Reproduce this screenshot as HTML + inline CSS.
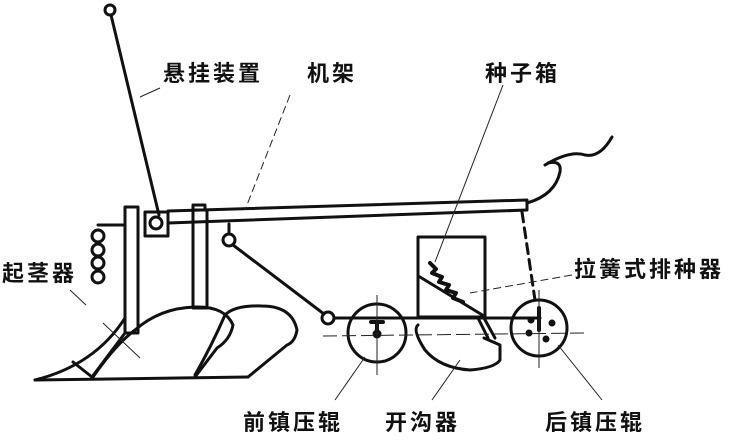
<!DOCTYPE html>
<html><head><meta charset="utf-8"><style>
html,body{margin:0;padding:0;background:#fff;}
svg{display:block;}
text{font-family:"Liberation Sans","Noto Sans CJK SC",sans-serif;font-size:22px;font-weight:bold;fill:#111;letter-spacing:3px;}
</style></head><body>
<svg width="729" height="441" viewBox="0 0 729 441" xmlns="http://www.w3.org/2000/svg">
<g fill="none" stroke="#111" stroke-width="3" stroke-linejoin="round" stroke-linecap="round">
<circle cx="110" cy="10" r="5"/>
<line x1="111" y1="15" x2="159" y2="215"/>
<path d="M168 211 L527 200 L527 210 L168 223"/>
<path d="M527 203 Q555 195 560 172 Q562 160 548 163"/>
<path d="M545 165 Q570 150 585 155 Q600 158 612 137"/>
<rect x="145" y="212" width="23" height="24"/>
<circle cx="156" cy="223" r="6"/>
<rect x="125" y="207" width="13" height="126"/>
<path d="M98 225 L125 225"/>
<circle cx="98" cy="236" r="6"/><circle cx="98" cy="250" r="6"/><circle cx="98" cy="263" r="6"/><circle cx="98" cy="277" r="6"/>
<rect x="193" y="210" width="14" height="98"/>
<rect x="193" y="205" width="12" height="5"/>
<line x1="229" y1="224" x2="229" y2="234"/>
<circle cx="229" cy="240" r="6"/>
<line x1="233" y1="245" x2="324" y2="314"/>
<circle cx="328" cy="318" r="6"/>
<!-- plows -->
<path d="M35 380 L248 377"/>
<path d="M35 380 Q95 365 125 318"/>
<path d="M92 377 L125 333"/>
<path d="M73 362 L92 377"/>
<path d="M93 377 Q115 345 135 330 Q160 308 195 307 Q225 306 233 325 Q230 340 217 348 L195 377"/>
<path d="M195 375 Q212 345 225 315 Q235 305 262 306 Q292 306 297 330 Q295 342 287 345 L248 377"/>
<rect x="418" y="237" width="67" height="80"/>
<line x1="420" y1="277" x2="484" y2="316"/>
<path d="M430 263 l6 6 l-4 4 l10 4 l-3 5 l10 3 l-3 5 l10 3 l-3 5 l10 4" stroke-width="4"/>
<path d="M334 318 L540 318"/>
<path d="M478 318 L488 338 M484 318 L495 338"/>
<circle cx="377" cy="333" r="29"/>
<path d="M371 322 L383 322 M377 322 L377 336" stroke-width="4"/>
<circle cx="377" cy="334" r="3" fill="#111"/>
<path d="M418 325 Q412 330 425 350 Q440 368 470 370 Q495 368 500 360 L500 345 L484 338"/>
<circle cx="539" cy="328" r="28"/>
<path d="M539 308 L539 330" stroke-width="4"/>
<circle cx="529" cy="333" r="2" fill="#111"/><circle cx="552" cy="323" r="2" fill="#111"/><circle cx="546" cy="339" r="2" fill="#111"/><circle cx="531" cy="320" r="2" fill="#111"/>
<path d="M522 212 L535 300" stroke-dasharray="10 6"/>
</g>
<g fill="none" stroke="#222" stroke-width="1">
<path d="M323 336 L585 333" stroke-dasharray="14 5"/>
<path d="M377 295 L377 375 M539 290 L539 368"/>
<path d="M140 97 L160 88"/>
<path d="M290 95 L245 210" stroke-dasharray="8 4"/>
<path d="M503 85 L435 262"/>
<path d="M572 275 L470 293" stroke-dasharray="8 4"/>
<path d="M70 290 L86 305"/>
<path d="M103 323 L140 358"/>
<path d="M335 400 L365 357"/>
<path d="M432 400 L460 360"/>
<path d="M602 400 L558 345"/>
</g>
<text x="163" y="81">悬挂装置</text>
<text x="307" y="81">机架</text>
<text x="485" y="81">种子箱</text>
<text x="574" y="277">拉簧式排种器</text>
<text x="2" y="281">起茎器</text>
<text x="243" y="430">前镇压辊</text>
<text x="385" y="430">开沟器</text>
<text x="545" y="430">后镇压辊</text>
</svg>
</body></html>
